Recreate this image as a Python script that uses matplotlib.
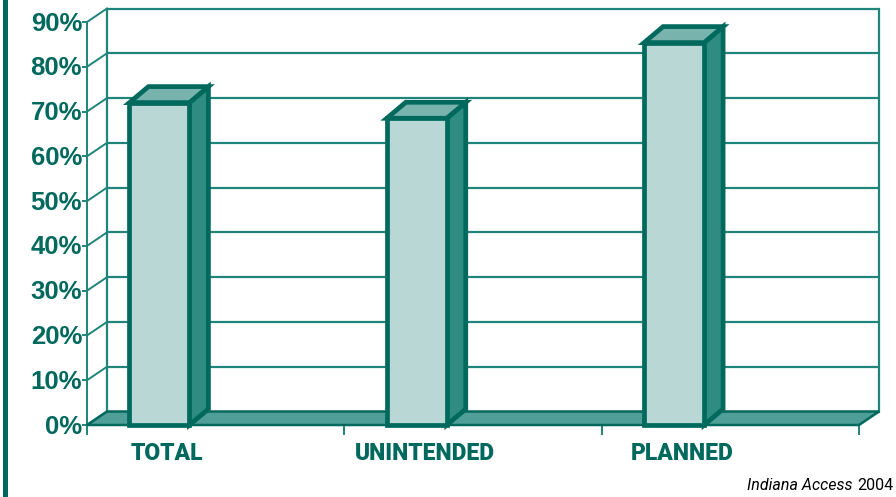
import matplotlib
matplotlib.use("Agg")
import matplotlib.pyplot as plt
from matplotlib.patches import Polygon, Rectangle
import numpy as np

categories = ["TOTAL", "UNINTENDED", "PLANNED"]
values = [72.0, 68.5, 85.4]
yticks = [0, 10, 20, 30, 40, 50, 60, 70, 80, 90]
ytick_labels = ["0%", "10%", "20%", "30%", "40%", "50%", "60%", "70%", "80%", "90%"]
source_italic = "Indiana Access"
source_year = "2004"

W, H = 896, 497
fig = plt.figure(figsize=(W / 100, H / 100), dpi=100)
fig.patch.set_facecolor("white")

# front plane placement (pixels)
x0_px, x1_px = 87, 859
y0_px, y90_px = 425, 22
ax = fig.add_axes([x0_px / W, (H - y0_px) / H, (x1_px - x0_px) / W, (y0_px - y90_px) / H])
ax.set_xlim(0, 3)
ax.set_ylim(0, 90)
ax.axis("off")

px_x = 3 / (x1_px - x0_px)          # data units per pixel (x)
px_y = 90 / (y0_px - y90_px)        # data units per pixel (y)
DX, DY = 20 * px_x, 13.5 * px_y     # wall depth offset
BDX, BDY = 19 * px_x, 16 * px_y     # bar depth offset

dark = "#00695e"
grid = "#1f8479"
floor_c = "#4f9e97"
side_c = "#2e8c82"
top_c = "#78b3ad"
front_c = "#b8d7d5"

# back wall gridlines
for v in yticks:
    ax.plot([DX, 3 + DX], [v + DY, v + DY], color=grid, lw=1.6, clip_on=False, zorder=1,
            solid_capstyle="butt")
# back wall verticals
ax.plot([DX, DX], [DY, 90 + DY], color=grid, lw=1.6, clip_on=False, zorder=1)
ax.plot([3 + DX, 3 + DX], [DY, 90 + DY], color=grid, lw=1.6, clip_on=False, zorder=1)
# left wall: front axis and diagonals
ax.plot([0, 0], [0, 90], color=grid, lw=1.4, clip_on=False, zorder=1)
for v, lab in zip(yticks, ytick_labels):
    ax.plot([0, DX], [v, v + DY], color=grid, lw=1.4, clip_on=False, zorder=1)
    ax.plot([-4 * px_x, 0], [v, v], color=grid, lw=1.4, clip_on=False, zorder=1)
    ax.text(-5 * px_x, v - 1.5 * px_y, lab, ha="right", va="center",
            fontsize=18.5, fontweight="bold", color=dark, family="Liberation Sans")

# floor
floor = Polygon([(0, 0), (3, 0), (3 + DX, DY), (DX, DY)], closed=True,
                facecolor=floor_c, edgecolor=dark, lw=1.8, clip_on=False, zorder=2)
ax.add_patch(floor)
# category ticks below the floor
for i in range(len(categories) + 1):
    ax.plot([i, i], [0, -9 * px_y], color=grid, lw=1.4, clip_on=False, zorder=1)

# bars
bar_off, bar_w = 0.165, 0.233
lefts = [i + bar_off for i in range(len(categories))]
for l, v in zip(lefts, values):
    side = Polygon([(l + bar_w, 0), (l + bar_w + BDX, BDY), (l + bar_w + BDX, v + BDY), (l + bar_w, v)],
                   closed=True, facecolor=side_c, edgecolor=dark, lw=3.4, joinstyle="miter",
                   clip_on=False, zorder=3)
    top = Polygon([(l, v), (l + bar_w, v), (l + bar_w + BDX, v + BDY), (l + BDX, v + BDY)],
                  closed=True, facecolor=top_c, edgecolor=dark, lw=3.4, joinstyle="miter",
                  clip_on=False, zorder=3)
    ax.add_patch(side)
    ax.add_patch(top)
ax.bar(lefts, values, width=bar_w, align="edge", color=front_c, edgecolor=dark,
       linewidth=3.4, zorder=4, clip_on=False)

# category labels
for i, c in enumerate(categories):
    ax.text(lefts[i] + bar_w / 2 + 0.03, -28 * px_y, c, ha="center", va="center",
            fontsize=16.5, fontweight="black", color=dark, family="Roboto")

# left decorative bar
fig.patches.append(Rectangle((3 / W, 0), 5 / W, 1, transform=fig.transFigure,
                             facecolor=dark, edgecolor="none", zorder=0))

# source text
t_year = fig.text((W - 3) / W, (H - 485) / H, source_year, ha="right", va="center",
                  fontsize=11.5, color="black", family="Roboto")
fig.canvas.draw()
r = fig.canvas.get_renderer()
bb = t_year.get_window_extent(r)
fig.text((bb.x0 - 4) / W, (H - 485) / H, source_italic, ha="right", va="center",
         fontsize=11.5, style="italic", color="black", family="Roboto")

fig.savefig("out.png", dpi=100)
